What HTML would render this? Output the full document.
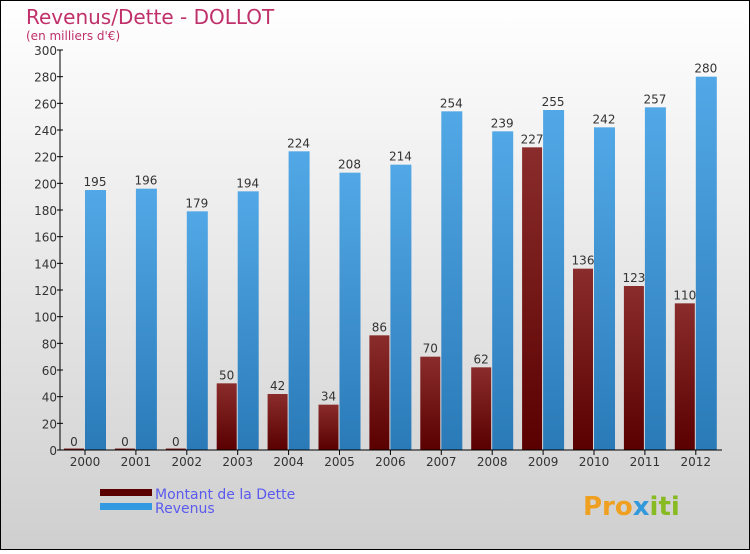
<!DOCTYPE html>
<html><head><meta charset="utf-8"><style>
html,body{margin:0;padding:0}
body{width:750px;height:550px;overflow:hidden;font-family:"DejaVu Sans","Liberation Sans",sans-serif}
</style></head><body>
<svg width="750" height="550" xmlns="http://www.w3.org/2000/svg">
<defs>
<linearGradient id="bg" x1="0" y1="0" x2="0" y2="1"><stop offset="0" stop-color="#ffffff"/><stop offset="1" stop-color="#cfcfcf"/></linearGradient>
<linearGradient id="gd" x1="0" y1="0" x2="0" y2="1"><stop offset="0" stop-color="#8a2c2c"/><stop offset="1" stop-color="#5a0000"/></linearGradient>
<linearGradient id="gr" x1="0" y1="0" x2="0" y2="1"><stop offset="0" stop-color="#52a8e6"/><stop offset="1" stop-color="#2a7ab8"/></linearGradient>
</defs>
<rect x="0.5" y="0.5" width="749" height="549" fill="url(#bg)" stroke="#000"/>
<text x="26" y="24" font-size="20" fill="#c0306a">Revenus/Dette - DOLLOT</text>
<text x="26" y="40" font-size="12" fill="#c0306a">(en milliers d'€)</text>
<g id="plot"></g>
<g>
<rect x="100" y="489" width="52" height="7" fill="#5a0000"/>
<text x="155" y="499" font-size="14" fill="#5a5aee">Montant de la Dette</text>
<rect x="100" y="503" width="52" height="7" fill="#3399e0"/>
<text x="155" y="513" font-size="14" fill="#5a5aee">Revenus</text>
</g>
<text x="583" y="515" font-size="26" font-weight="bold" fill="#f0a020">Pro<tspan fill="#3399dd">x</tspan><tspan fill="#88bb22">iti</tspan></text>
</svg>
<script>
const years=["2000","2001","2002","2003","2004","2005","2006","2007","2008","2009","2010","2011","2012"];
const dette=[0,0,0,50,42,34,86,70,62,227,136,123,110];
const revenus=[195,196,179,194,224,208,214,254,239,255,242,257,280];
const yTicks=[0,20,40,60,80,100,120,140,160,180,200,220,240,260,280,300];
const NS="http://www.w3.org/2000/svg";
const g=document.getElementById('plot');
const y0=450,yTop=50,yMax=300,x0=85,step=50.9,bw=20;
const Y=v=>y0-(v/yMax)*(y0-yTop);
const X=i=>x0+i*step;
function mk(t,a){const e=document.createElementNS(NS,t);for(const k in a)e.setAttribute(k,a[k]);g.appendChild(e);return e;}
yTicks.forEach(v=>{
 const l=mk('line',{x1:57,x2:63,y1:Y(v),y2:Y(v),stroke:'#000'});
 
 
 const t=mk('text',{x:57,y:Y(v)+5,'font-size':12,fill:'#333','text-anchor':'end'});
 t.textContent=v;
 
 
});
years.forEach((yr,i)=>{
 const c=X(i);
 const hd=Math.max(Y(0)-Y(dette[i]),1.5);
 const b1=mk('rect',{x:c-bw-1,y:Y(0)-hd,width:bw,height:hd,fill:'url(#gd)'});
 
 
 const t1=mk('text',{x:c-bw/2-1,y:Y(dette[i])-4,'font-size':12,fill:'#333','text-anchor':'middle'});
 t1.textContent=dette[i];
 
 
 const b2=mk('rect',{x:c,y:Y(revenus[i]),width:bw+1,height:Y(0)-Y(revenus[i]),fill:'url(#gr)'});
 
 
 const t2=mk('text',{x:c+bw/2,y:Y(revenus[i])-4,'font-size':12,fill:'#333','text-anchor':'middle'});
 t2.textContent=revenus[i];
 
 
 const tk=mk('line',{x1:c,x2:c,y1:450,y2:455,stroke:'#000'});
 
 
 const xl=mk('text',{x:c,y:466,'font-size':12,fill:'#333','text-anchor':'middle'});
 xl.textContent=yr;
 
 
});
const ax=mk('line',{x1:60,x2:60,y1:50,y2:450,stroke:'#000'});


const bx=mk('line',{x1:60,x2:722,y1:450,y2:450,stroke:'#000'});


</script>
</body></html>
